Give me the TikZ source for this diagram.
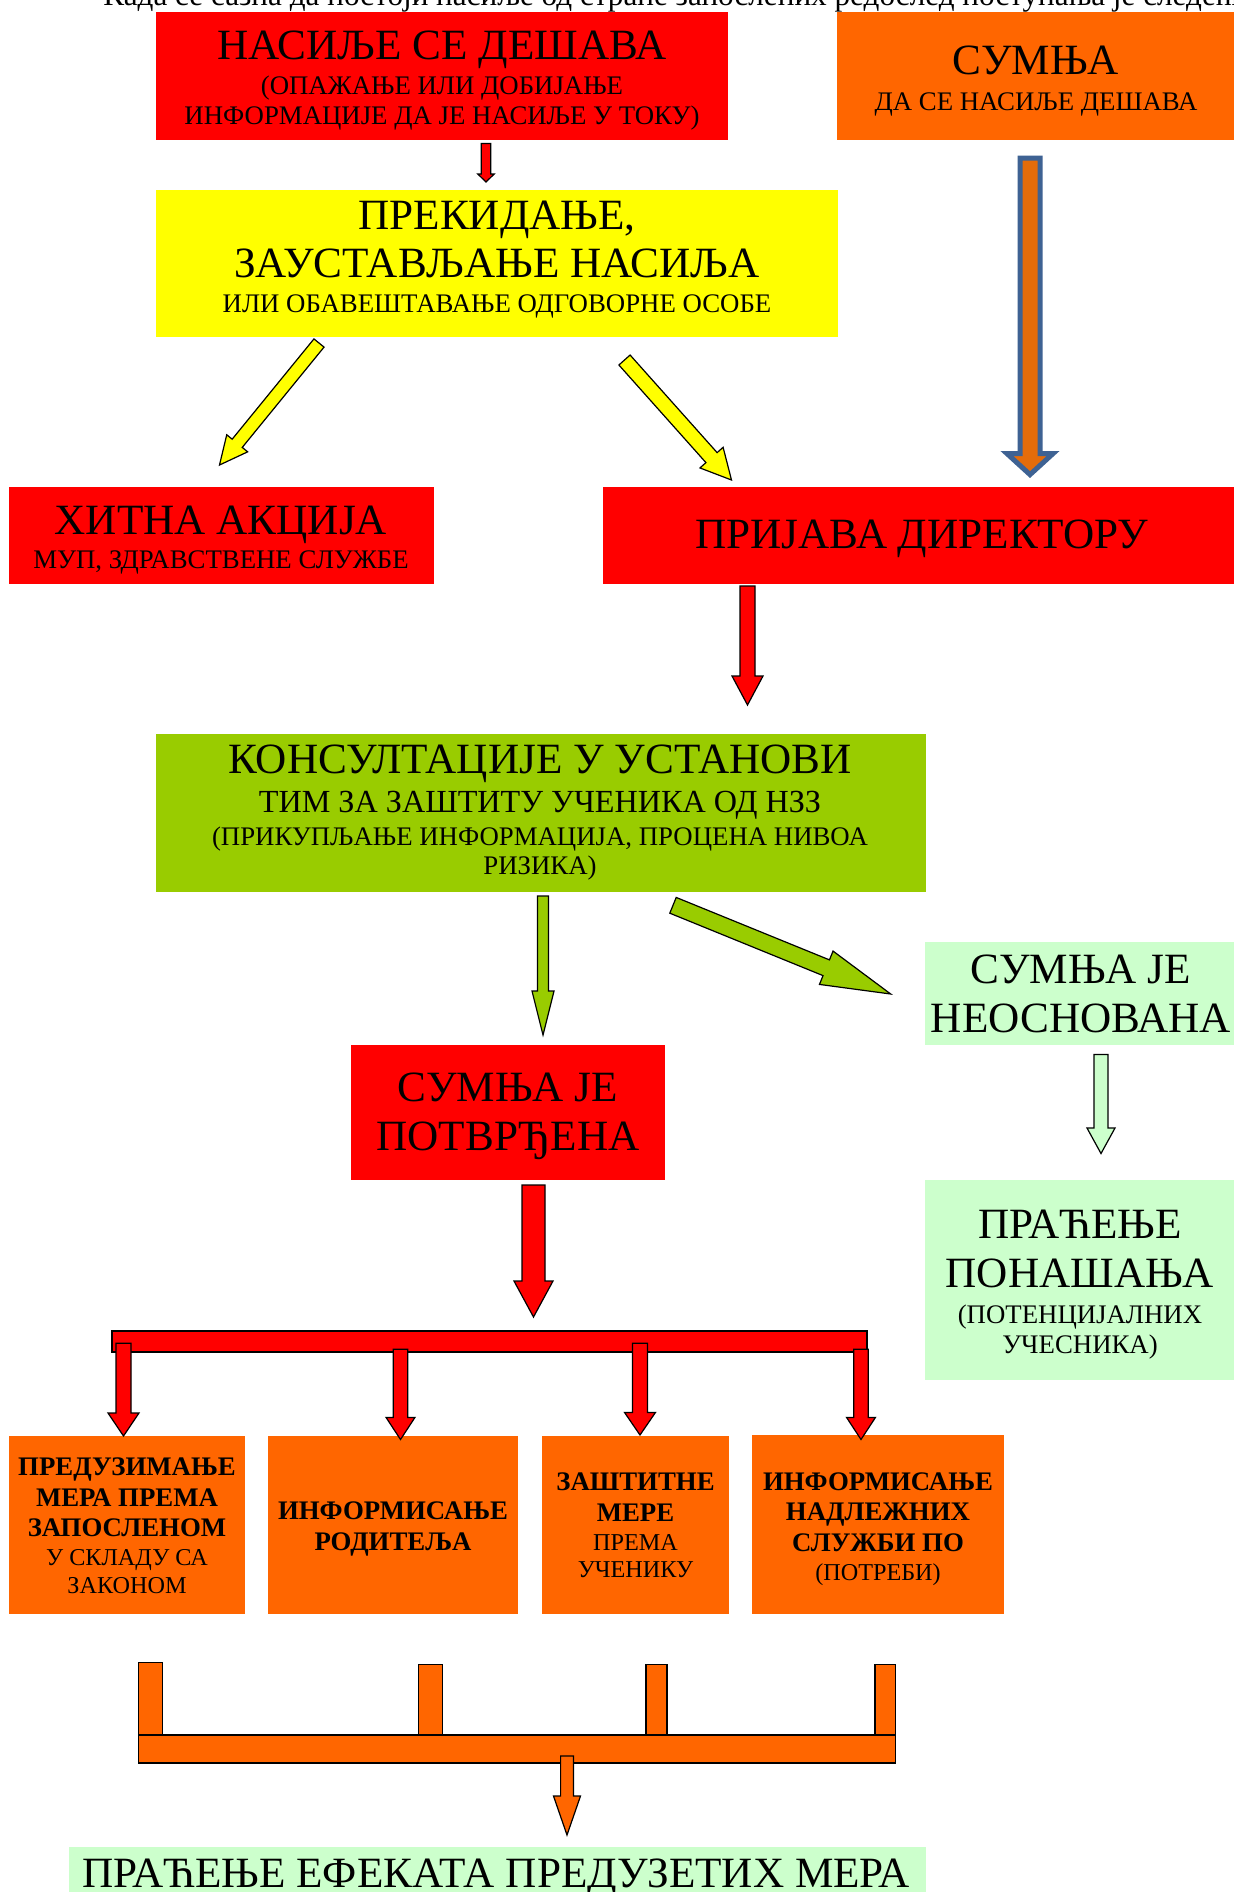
\documentclass[tikz,border=0pt]{standalone}
\usepackage{fontspec}
\setmainfont{Liberation Serif}
\usetikzlibrary{calc,fit}
\definecolor{cRed}{HTML}{FF0000}
\definecolor{cOrange}{HTML}{FF6600}
\definecolor{cYellow}{HTML}{FFFF00}
\definecolor{cGreen}{HTML}{99CC00}
\definecolor{cLight}{HTML}{CCFFCC}
\definecolor{cBlue}{HTML}{3E6293}
\definecolor{cDarkOrange}{HTML}{E46C0A}
% [style]{tail}{tip}{half shaft}{half head}{head length}
\newcommand\blockarrow[6][]{%
  \coordinate (ba-neck) at ($(#3)!#6!(#2)$);
  \draw[#1] ($(#2)!#4!90:(#3)$) -- ($(ba-neck)!#4!90:(#3)$) -- ($(ba-neck)!#5!90:(#3)$)
    -- (#3) -- ($(ba-neck)!#5!-90:(#3)$) -- ($(ba-neck)!#4!-90:(#3)$)
    -- ($(#2)!#4!-90:(#3)$) -- cycle;}
\tikzset{
  box/.style={inner sep=0pt, outer sep=0pt, draw=none},
  tbig/.style={anchor=base, inner sep=0pt, font=\fontsize{21.6pt}{25pt}\selectfont},
  tmid/.style={anchor=base, inner sep=0pt, font=\fontsize{16.1pt}{19pt}\selectfont},
  tsub/.style={anchor=base, inner sep=0pt, font=\fontsize{13.4pt}{16pt}\selectfont},
  tbold/.style={anchor=base, inner sep=0pt, font=\bfseries\fontsize{13.4pt}{16pt}\selectfont},
  tsmall/.style={anchor=base, inner sep=0pt, font=\fontsize{12.1pt}{14pt}\selectfont},
  arr/.style={draw=black, line width=0.6pt, line join=miter},
}
\begin{document}
\begin{tikzpicture}[x=0.5pt, y=-0.5pt]
\useasboundingbox (0,0) rectangle (1234,1892);
\fill[white] (0,0) rectangle (1234,1892);

% header (cut off at the top)
\node[anchor=base west, inner sep=0pt, font=\fontsize{15.6pt}{18pt}\selectfont] (hdr) at (103,5.5)
  {Када се сазна да постоји насиље од стране запослених редослед поступања је следећи:};

% boxes
\node[box, fill=cRed, fit={(156,12)(728,140)}] (b-nasilje) {};
\node[box, fill=cOrange, fit={(837,12)(1234,140)}] (b-sumnja) {};
\node[box, fill=cYellow, fit={(156,190)(838,337)}] (b-prekid) {};
\node[box, fill=cRed, fit={(9,487)(434,584)}] (b-hitna) {};
\node[box, fill=cRed, fit={(603,487)(1234,584)}] (b-prijava) {};
\node[box, fill=cGreen, fit={(156,734)(926,891.5)}] (b-konsult) {};
\node[box, fill=cLight, fit={(925,941.5)(1234,1045)}] (b-neosn) {};
\node[box, fill=cRed, fit={(351,1045)(665,1179.5)}] (b-potvr) {};
\node[box, fill=cLight, fit={(925,1180)(1234,1380)}] (b-pracenje) {};
\node[box, fill=cOrange, fit={(8.7,1436)(245,1614)}] (b-o1) {};
\node[box, fill=cOrange, fit={(268,1436)(518,1614)}] (b-o2) {};
\node[box, fill=cOrange, fit={(542,1436)(729,1614)}] (b-o3) {};
\node[box, fill=cOrange, fit={(752,1435)(1004,1614)}] (b-o4) {};
\node[box, fill=cLight, fit={(69,1847)(926,1900)}] (b-efekti) {};

% texts
\node[tbig] (t-n1) at (442,59.3) {НАСИЉЕ СЕ ДЕШАВА};
\node[tsub] (t-n2) at (442,94) {(ОПАЖАЊЕ ИЛИ ДОБИЈАЊЕ};
\node[tsub] (t-n3) at (442,124.5) {ИНФОРМАЦИЈЕ ДА ЈЕ НАСИЉЕ У ТОКУ)};

\node[tbig] (t-s1) at (1036,74.6) {СУМЊА};
\node[tsub] (t-s2) at (1036,110) {ДА СЕ НАСИЉЕ ДЕШАВА};

\node[tbig] (t-p1) at (497,229) {ПРЕКИДАЊЕ,};
\node[tbig] (t-p2) at (497,277.4) {ЗАУСТАВЉАЊЕ НАСИЉА};
\node[tsub] (t-p3) at (497,312) {ИЛИ ОБАВЕШТАВАЊЕ ОДГОВОРНЕ ОСОБЕ};

\node[tbig] (t-h1) at (221,534) {ХИТНА АКЦИЈА};
\node[tsub] (t-h2) at (221,568) {МУП, ЗДРАВСТВЕНЕ СЛУЖБЕ};

\node[tbig] (t-d1) at (922,548) {ПРИЈАВА ДИРЕКТОРУ};

\node[tbig] (t-k1) at (540,773) {КОНСУЛТАЦИЈЕ У УСТАНОВИ};
\node[tmid] (t-k2) at (540,812) {ТИМ ЗА ЗАШТИТУ УЧЕНИКА ОД НЗЗ};
\node[tsub] (t-k3) at (540,845) {(ПРИКУПЉАЊЕ ИНФОРМАЦИЈА, ПРОЦЕНА НИВОА};
\node[tsub] (t-k4) at (540,874.5) {РИЗИКА)};

\node[tbig] (t-u1) at (1081,983) {СУМЊА ЈЕ};
\node[tbig] (t-u2) at (1081,1032) {НЕОСНОВАНА};

\node[tbig] (t-v1) at (508,1101) {СУМЊА ЈЕ};
\node[tbig] (t-v2) at (508,1150) {ПОТВРЂЕНА};

\node[tbig] (t-r1) at (1080,1238) {ПРАЋЕЊЕ};
\node[tbig] (t-r2) at (1080,1287.5) {ПОНАШАЊА};
\node[tsub] (t-r3) at (1080,1323) {(ПОТЕНЦИЈАЛНИХ};
\node[tsub] (t-r4) at (1080,1353) {УЧЕСНИКА)};

\node[tbold] (t-a1) at (127,1475.6) {ПРЕДУЗИМАЊЕ};
\node[tbold] (t-a2) at (127,1506.5) {МЕРА ПРЕМА};
\node[tbold] (t-a3) at (127,1536.7) {ЗАПОСЛЕНОМ};
\node[tsmall] (t-a4) at (127,1565.4) {У СКЛАДУ СА};
\node[tsmall] (t-a5) at (127,1593.4) {ЗАКОНОМ};

\node[tbold] (t-b1) at (393,1519) {ИНФОРМИСАЊЕ};
\node[tbold] (t-b2) at (393,1550) {РОДИТЕЉА};

\node[tbold] (t-c1) at (635.5,1490.7) {ЗАШТИТНЕ};
\node[tbold] (t-c2) at (635.5,1521.6) {МЕРЕ};
\node[tsmall] (t-c3) at (635.5,1550) {ПРЕМА};
\node[tsmall] (t-c4) at (635.5,1577.5) {УЧЕНИКУ};

\node[tbold] (t-e1) at (878,1490) {ИНФОРМИСАЊЕ};
\node[tbold] (t-e2) at (878,1520) {НАДЛЕЖНИХ};
\node[tbold] (t-e3) at (878,1551) {СЛУЖБИ ПО};
\node[tsmall] (t-e4) at (878,1580) {(ПОТРЕБИ)};

\node[tbig] (t-f1) at (496,1887) {ПРАЋЕЊЕ ЕФЕКАТА ПРЕДУЗЕТИХ МЕРА};

% arrow end points
\coordinate (a1s) at (486,143.5);   \coordinate (a1e) at (486,182);
\coordinate (a2s) at (1030,158.2);  \coordinate (a2e) at (1030,474.6);
\coordinate (a3s) at (319,343);     \coordinate (a3e) at (219.5,465);
\coordinate (a4s) at (624.5,360);   \coordinate (a4e) at (731.5,480);
\coordinate (a5s) at (747.5,586);   \coordinate (a5e) at (747.5,705);
\coordinate (a6s) at (543,896);     \coordinate (a6e) at (543,1035);
\coordinate (a7s) at (673,905.3);   \coordinate (a7e) at (890.7,994);
\coordinate (a8s) at (1101,1054.5); \coordinate (a8e) at (1101,1153.5);
\coordinate (a9s) at (533.5,1185);  \coordinate (a9e) at (533.5,1317);
\coordinate (q1s) at (123.5,1343.3);\coordinate (q1e) at (123.5,1436);
\coordinate (q2s) at (400.5,1349.3);\coordinate (q2e) at (400.5,1439.5);
\coordinate (q3s) at (640,1343.3);  \coordinate (q3e) at (640,1435);
\coordinate (q4s) at (861,1349.3);  \coordinate (q4e) at (861,1439.5);
\coordinate (o1s) at (567,1756);    \coordinate (o1e) at (567,1835);

\blockarrow[arr, fill=cRed]{a1s}{a1e}{2.35pt}{4.1pt}{4pt}
\blockarrow[draw=cBlue, line width=2.5pt, line join=miter, fill=cDarkOrange]{a2s}{a2e}{5pt}{11.5pt}{10.5pt}
\blockarrow[arr, fill=cYellow]{a3s}{a3e}{3.25pt}{6.75pt}{14pt}
\blockarrow[arr, fill=cYellow]{a4s}{a4e}{3.75pt}{7.75pt}{15pt}
\blockarrow[arr, fill=cRed]{a5s}{a5e}{3.75pt}{7.75pt}{14.5pt}
\blockarrow[arr, fill=cGreen]{a6s}{a6e}{2.75pt}{5.5pt}{22pt}
\blockarrow[arr, fill=cGreen]{a7s}{a7e}{4.25pt}{9pt}{34.8pt}
\blockarrow[arr, fill=cLight]{a8s}{a8e}{3.5pt}{7pt}{12.75pt}
\blockarrow[arr, fill=cRed]{a9s}{a9e}{5.75pt}{9.75pt}{18pt}

% red distribution bar
\node[box, draw=black, line width=0.6pt, fill=cRed, fit={(112,1331)(867,1352)}] (redbar) {};
\blockarrow[arr, fill=cRed]{q1s}{q1e}{3.75pt}{7.75pt}{11.5pt}
\blockarrow[arr, fill=cRed]{q2s}{q2e}{3.6pt}{7.2pt}{11pt}
\blockarrow[arr, fill=cRed]{q3s}{q3e}{3.75pt}{7.75pt}{11.3pt}
\blockarrow[arr, fill=cRed]{q4s}{q4e}{3.6pt}{7.2pt}{11pt}

% orange collecting bracket
\node[box, draw=black, line width=0.6pt, fill=cOrange, fit={(138.5,1662.7)(162.7,1735)}] (post1) {};
\node[box, draw=black, line width=0.6pt, fill=cOrange, fit={(418.5,1664.5)(442.7,1735)}] (post2) {};
\node[box, draw=black, line width=0.6pt, fill=cOrange, fit={(646,1664.5)(667,1735)}] (post3) {};
\node[box, draw=black, line width=0.6pt, fill=cOrange, fit={(875,1664.5)(895.5,1735)}] (post4) {};
\node[box, draw=black, line width=0.6pt, fill=cOrange, fit={(138.5,1735)(895.5,1763)}] (orbar) {};
\blockarrow[arr, fill=cOrange]{o1s}{o1e}{3.2pt}{6.75pt}{19.5pt}
\end{tikzpicture}
\end{document}
